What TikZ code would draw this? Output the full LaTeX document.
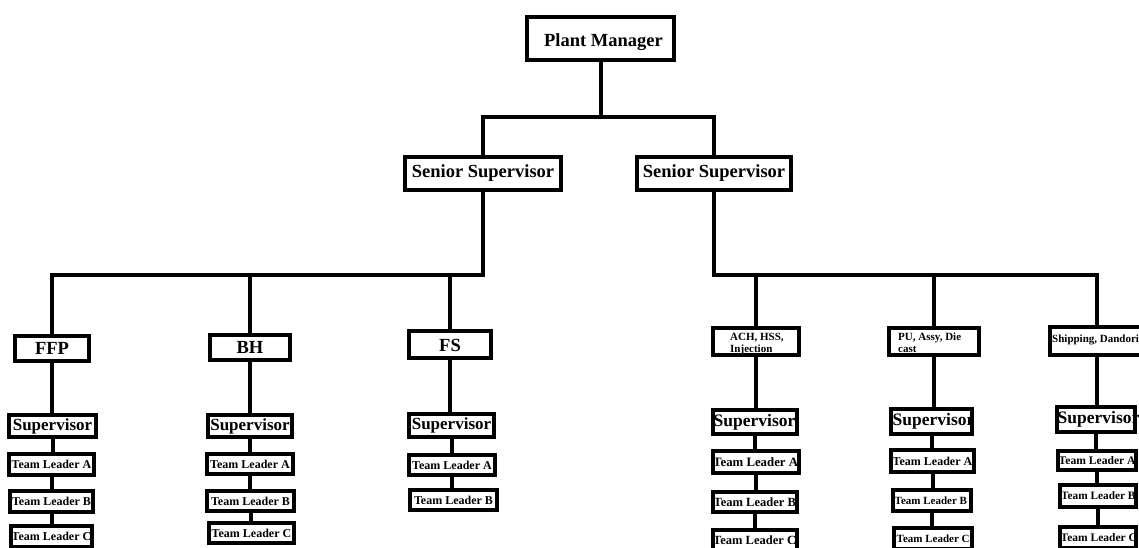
\documentclass[tikz,border=0pt]{standalone}
\usepackage{fontspec}
\setmainfont{Liberation Serif}

% font sizes used in the chart
\newcommand\fsz[1]{\fontsize{#1}{#1}\selectfont\bfseries}
\newcommand\fBig{\fsz{18.5}}
\newcommand\fSup{\fsz{17}}
\newcommand\fSupR{\fsz{17.5}}
\newcommand\fTL{\fsz{12}}
\newcommand\fSmall{\fontsize{11}{12}\selectfont\bfseries}

\def\orgbw{4}

\tikzset{
  box/.style={rectangle, draw=black, line width=\orgbw pt, fill=white, inner sep=0pt},
  conn/.style={draw=black, line width=4pt},
  boxtext/.style={inner sep=0pt, text=black},
}

% box given by its outer corners (x1,y1)-(x2,y2); its text sits at the given
% anchor of the box, optionally shifted, and is drawn over the border
\NewDocumentCommand\orgbox{O{center} O{0,0} m m m m m m m}{%
  \pgfmathsetmacro\obx{(#4+#6)/2}%
  \pgfmathsetmacro\oby{(#5+#7)/2}%
  \pgfmathsetmacro\obw{#6-#4-\orgbw}%
  \pgfmathsetmacro\obh{#7-#5-\orgbw}%
  \node[box, minimum width=\obw pt, minimum height=\obh pt,
        append after command={node[boxtext, font=#8, anchor=#1]
          at ([shift={(#2)}]\tikzlastnode.#1) {#9}}]
        (#3) at (\obx,\oby) {};}

% box with left-aligned text whose first baseline is offset from the top-left corner
\NewDocumentCommand\orgboxL{m m m m m m m m}{%
  \pgfmathsetmacro\obx{(#2+#4)/2}%
  \pgfmathsetmacro\oby{(#3+#5)/2}%
  \pgfmathsetmacro\obw{#4-#2-\orgbw}%
  \pgfmathsetmacro\obh{#5-#3-\orgbw}%
  \node[box, minimum width=\obw pt, minimum height=\obh pt,
        append after command={node[boxtext, font=\fSmall, anchor=base west]
          at ([shift={(#6,#7)}]\tikzlastnode.north west)
          {\parbox[t]{120pt}{\raggedright #8}}}]
        (#1) at (\obx,\oby) {};}

\begin{document}
\begin{tikzpicture}[x=1pt, y=-1pt]
\useasboundingbox (0,0) rectangle (1139,547);
\clip (0,0) rectangle (1139,547);

% top levels
\orgbox[center][3,3.5]{pm}{525}{15}{676}{62}{\fBig}{Plant Manager}
\orgbox{ss1}{403}{155}{563}{192}{\fBig}{Senior Supervisor}
\orgbox{ss2}{635}{155}{793}{192}{\fBig}{Senior Supervisor}

% left departments
\orgbox{ffp}{13}{334}{91}{363}{\fBig}{FFP}
\orgbox{ffpS}{7}{413}{98}{439}{\fSup}{Supervisor}
\orgbox{ffpA}{7}{452}{96}{477}{\fTL}{Team Leader A}
\orgbox{ffpB}{8}{489}{95}{514}{\fTL}{Team Leader B}
\orgbox{ffpC}{9}{524}{94}{549}{\fTL}{Team Leader C}

\orgbox{bh}{208}{333}{292}{362}{\fBig}{BH}
\orgbox{bhS}{206}{413}{294}{439}{\fSup}{Supervisor}
\orgbox{bhA}{205}{452}{295}{476}{\fTL}{Team Leader A}
\orgbox{bhB}{205}{489}{296}{513}{\fTL}{Team Leader B}
\orgbox{bhC}{207}{521}{296}{545}{\fTL}{Team Leader C}

\orgbox[center][0,1]{fs}{407}{329}{493}{360}{\fBig}{FS}
\orgbox{fsS}{407}{412}{496}{439}{\fSup}{Supervisor}
\orgbox{fsA}{407}{453}{497}{477}{\fTL}{Team Leader A}
\orgbox{fsB}{408}{488}{499}{512}{\fTL}{Team Leader B}

% right departments
\orgboxL{ach}{711}{326}{801}{357}{19}{14.5}{ACH, HSS,\\Injection}
\orgbox[west][2.5,0]{achS}{711}{408}{799}{436}{\fSupR}{Supervisor}
\orgbox[west][2,0]{achA}{711}{449}{801}{475}{\fsz{12.8}}{Team Leader A}
\orgbox[west][2.5,0]{achB}{711}{490}{799}{514}{\fsz{12.5}}{Team Leader B}
\orgbox[west][2,0]{achC}{711}{528}{799}{553}{\fsz{12.5}}{Team Leader C}

\orgboxL{pu}{887}{326}{981}{357}{11}{14}{PU, Assy, Die\\cast}
\orgbox[west][3.5,0]{puS}{889}{407}{974}{436}{\fSupR}{Supervisor}
\orgbox[west][3.5,0]{puA}{889}{448}{976}{474}{\fsz{12}}{Team Leader A}
\orgbox[west][3.5,0]{puB}{891}{488}{973}{513}{\fsz{11}}{Team Leader B}
\orgbox[west][4.5,0]{puC}{892}{526}{974}{551}{\fsz{11}}{Team Leader C}

\orgboxL{sh}{1048}{325}{1146}{357}{4}{17}{Shipping, Dandori}
\orgbox[west][2.5,0]{shS}{1055}{405}{1137}{434}{\fSupR}{Supervisor}
\orgbox[west][2.5,0]{shA}{1056}{449}{1138}{472}{\fsz{11.6}}{Team Leader A}
\orgbox[west][3,0]{shB}{1058}{483}{1138}{509}{\fsz{11.3}}{Team Leader B}
\orgbox[west][2.5,0]{shC}{1058}{525}{1138}{550}{\fsz{11.5}}{Team Leader C}

% junction points of the buses
\path (pm.south) ++(0,55) coordinate (jT);
\path (ss1.south) ++(0,83) coordinate (jL);
\path (ss2.south) ++(0,83) coordinate (jR);

% plant manager to senior supervisors
\draw[conn] (pm.south) -- (jT);
\draw[conn] (ss1.north) |- (jT) -| (ss2.north);

% left senior supervisor bus
\draw[conn] (ss1.south) -- (jL) -| (ffp.north);
\draw[conn] (bh.north) -- (bh.north |- jL);
\draw[conn] (fs.north) -- (fs.north |- jL);

% right senior supervisor bus
\draw[conn] (ss2.south) -- (jR) -| (sh.north);
\draw[conn] (ach.north) -- (ach.north |- jR);
\draw[conn] (pu.north) -- (pu.north |- jR);

% chains inside each department
\foreach \a/\b in {ffp/ffpS, ffpS/ffpA, ffpA/ffpB, ffpB/ffpC,
                   bh/bhS, bhS/bhA, bhA/bhB, bhB/bhC,
                   fs/fsS, fsS/fsA, fsA/fsB,
                   ach/achS, achS/achA, achA/achB, achB/achC,
                   pu/puS, puS/puA, puA/puB, puB/puC,
                   sh/shS, shS/shA, shA/shB, shB/shC}
  \draw[conn] (\a.south) -- (\a.south |- \b.north);
\end{tikzpicture}
\end{document}
